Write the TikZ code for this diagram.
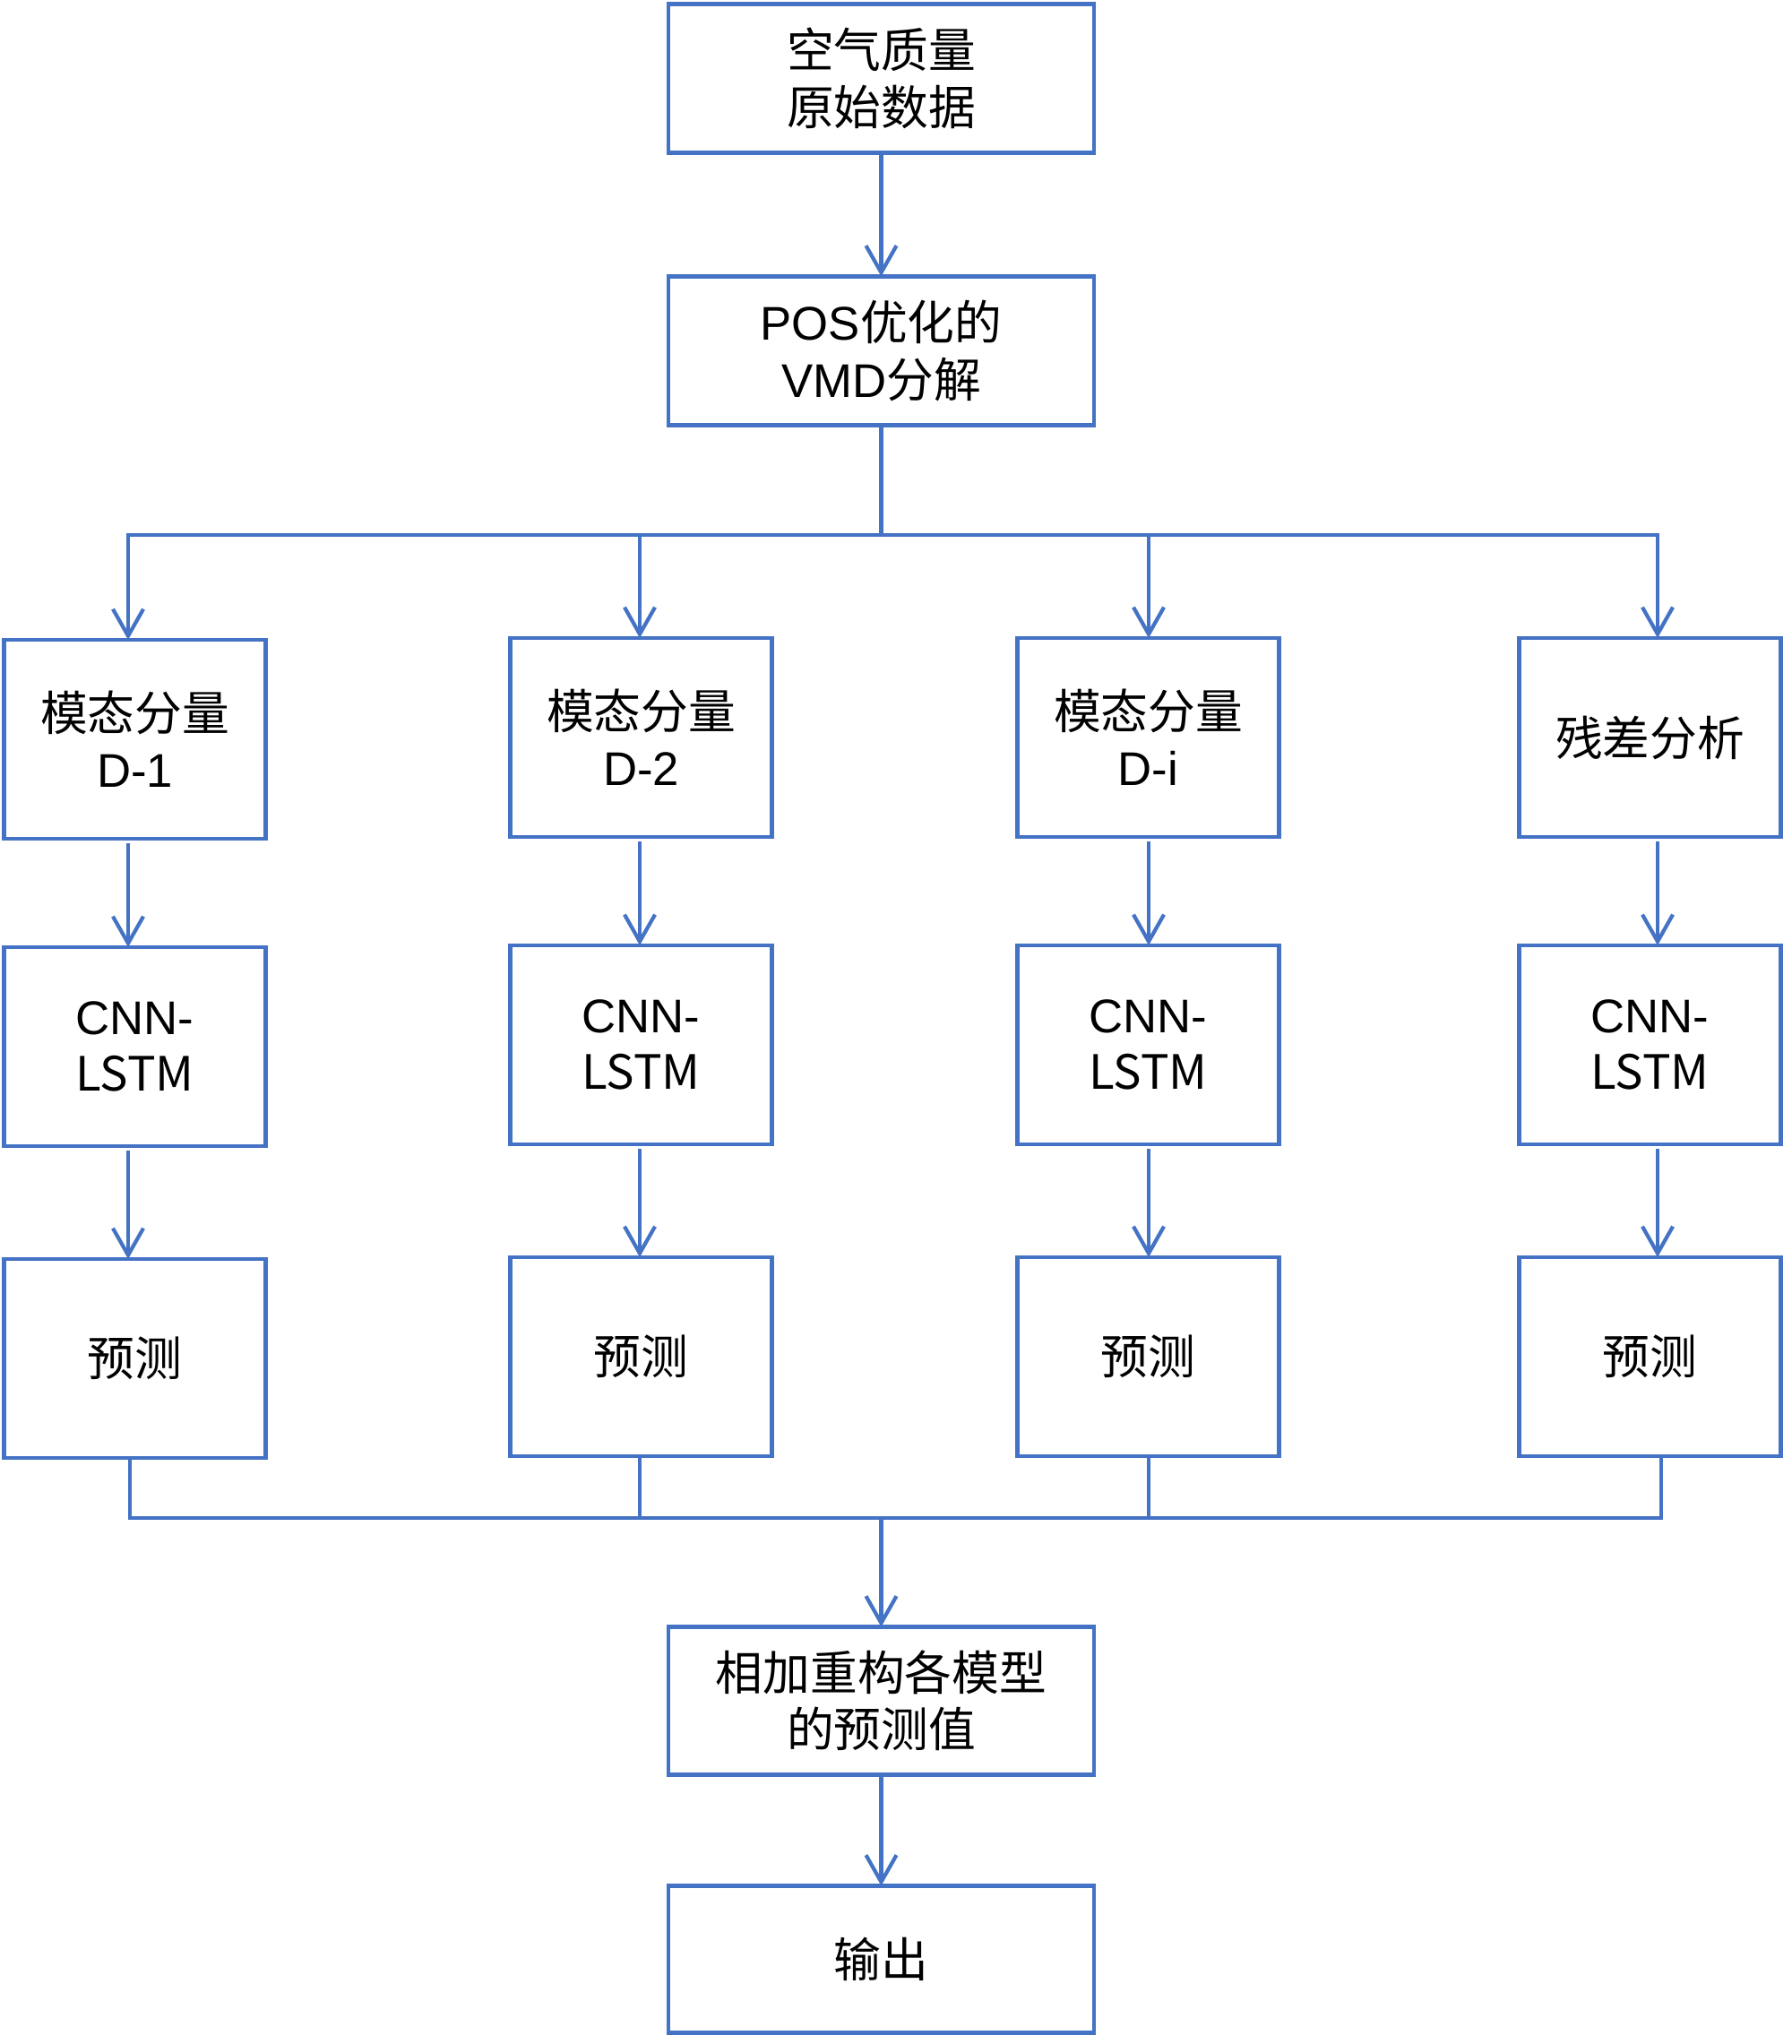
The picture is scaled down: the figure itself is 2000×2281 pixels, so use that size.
\documentclass[tikz,border=0pt]{standalone}
\usepackage{fontspec}
\setmainfont{Liberation Sans}
\newfontfamily\zh{Noto Sans CJK SC}
\usetikzlibrary{arrows.meta}
\definecolor{boxblue}{RGB}{68,114,196}

\begin{document}
\begin{tikzpicture}[
    x=0.01cm, y=-0.01cm,
    every node/.style={
        inner sep=0pt,
        outer sep=0pt,
    },
    box/.style n args={2}{
        draw=boxblue,rectangle,
        line width=1.2pt,
        minimum width=#1 cm,
        minimum height=#2 cm,
        align=center,
        font=\fontsize{15}{18}\selectfont\zh,
    },
    wire/.style={
        draw=boxblue,
        line width=1.2pt,
        line cap=rect,
    },
    flow/.style={
        wire,
        -{Straight Barb[length=3mm,width=3.4mm]},
    },
]
    \useasboundingbox (0,0) rectangle (2000,2281);

    % ~~~ top chain ~~~~~~~~~~~~~~~~~~~~~~~~~~~~~~~~~~~~~~~~~~~~~~
    \node[box={4.74}{1.66}] (src) at (983.5,87.5) {空气质量\\原始数据};
    \node[box={4.74}{1.66}] (vmd) at (983.5,391.5) {{\rmfamily POS}优化的\\{\rmfamily VMD}分解};

    % ~~~ four columns ~~~~~~~~~~~~~~~~~~~~~~~~~~~~~~~~~~~~~~~~~~~~
    \foreach \i/\x/\dy/\txt in {%
        1/150.5/2/{模态分量\\{\rmfamily D-1}},
        2/715.5/0/{模态分量\\{\rmfamily D-2}},
        3/1281.5/0/{模态分量\\{\rmfamily D-i}},
        4/1841.5/0/{残差分析}%no comma after
    }{
        \node[box={2.92}{2.22}] (m\i) at (\x,823+\dy) {\txt};
        \node[box={2.92}{2.22}] (c\i) at (\x,1166+\dy) {\rmfamily CNN-\\LSTM};
        \node[box={2.92}{2.22}] (p\i) at (\x,1514+\dy) {预测};
    }

    % ~~~ bottom chain ~~~~~~~~~~~~~~~~~~~~~~~~~~~~~~~~~~~~~~~~~~~~
    \node[box={4.74}{1.65}] (sum) at (983.5,1898) {相加重构各模型\\的预测值};
    \node[box={4.74}{1.64}] (out) at (983.5,2186.5) {输出};

    % ~~~ split and join points ~~~~~~~~~~~~~~~~~~~~~~~~~~~~~~~~~~~
    \coordinate (split) at (983.5,597);
    \coordinate (join)  at (983.5,1694);
    \foreach \i/\ax/\bx in {1/143/145, 2/714/714, 3/1282/1282, 4/1850/1854}{
        \coordinate (t\i) at (\ax,597);
        \coordinate (b\i) at (\bx,1694);
    }

    \draw[flow] (src) -- (vmd);
    \draw[wire] (vmd) -- (split);
    \draw[wire] (t1) -- (t4);
    \foreach \i in {1,...,4}{
        \draw[flow] (t\i) -- (t\i |- m\i.north);
        \draw[flow,shorten <=2pt] (t\i |- m\i.south) -- (t\i |- c\i.north);
        \draw[flow,shorten <=2pt] (t\i |- c\i.south) -- (t\i |- p\i.north);
        \draw[wire] (b\i |- p\i.south) -- (b\i);
    }
    \draw[wire] (b1) -- (b4);
    \draw[flow] (join) -- (sum);
    \draw[flow] (sum) -- (out);
\end{tikzpicture}
\end{document}
